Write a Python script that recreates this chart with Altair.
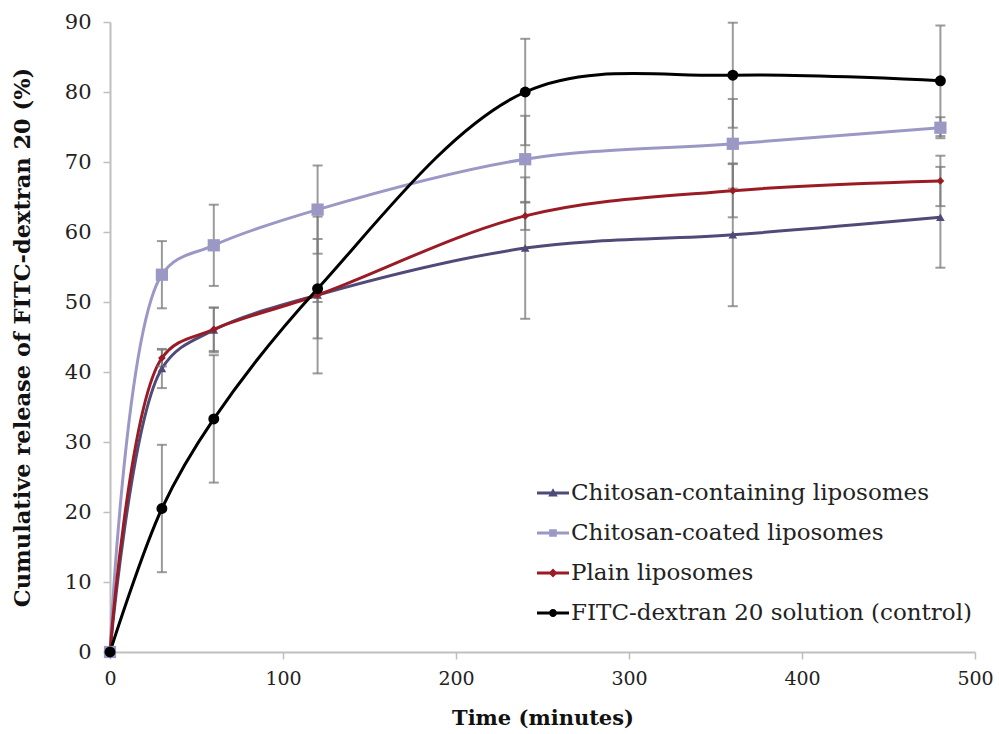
import altair as alt
import pandas as pd

# Sampling times (minutes)
time_min = [0, 30, 60, 120, 240, 360, 480]

series_names = [
    "Chitosan-containing liposomes",
    "Chitosan-coated liposomes",
    "Plain liposomes",
    "FITC-dextran 20 solution (control)",
]

# Cumulative release (%) and standard deviations
contained_mean = [0, 40.5, 46.0, 51.0, 57.7, 59.6, 62.1]
contained_sd = [0, 2.8, 3.2, 11.2, 10.1, 10.2, 7.2]
coated_mean = [0, 53.9, 58.1, 63.2, 70.4, 72.6, 74.9]
coated_sd = [0, 4.8, 5.8, 6.3, 6.2, 6.4, 1.5]
plain_mean = [0, 42.0, 46.1, 51.0, 62.3, 65.9, 67.3]
plain_sd = [0, 1.2, 3.1, 1.0, 2.0, 3.8, 3.6]
control_mean = [0, 20.5, 33.3, 51.9, 80.0, 82.4, 81.6]
control_sd = [0, 9.1, 9.1, 7.1, 7.6, 7.5, 7.9]

x_ticks = [0, 100, 200, 300, 400, 500]
y_ticks = [0, 10, 20, 30, 40, 50, 60, 70, 80, 90]

# Styling per series
colors = ["#4f4a78", "#9c98c5", "#9b1b24", "#000000"]
marker_shapes = ["triangle-up", "square", "diamond", "circle"]
marker_sizes = [75, 150, 60, 120]

# Legend glyphs: a short line segment with the series marker on it
legend_paths = [
    "M-1,-0.09L1,-0.09L1,0.09L-1,0.09Z M0,-0.3L0.3,0.22L-0.3,0.22Z",
    "M-1,-0.09L1,-0.09L1,0.09L-1,0.09Z M-0.24,-0.24L0.24,-0.24L0.24,0.24L-0.24,0.24Z",
    "M-1,-0.09L1,-0.09L1,0.09L-1,0.09Z M0,-0.28L0.28,0L0,0.28L-0.28,0Z",
    "M-1,-0.09L1,-0.09L1,0.09L-1,0.09Z M-0.25,0A0.25,0.25 0 1,1 0.25,0A0.25,0.25 0 1,1 -0.25,0Z",
]

rows = []
for name, means, sds in zip(
    series_names,
    [contained_mean, coated_mean, plain_mean, control_mean],
    [contained_sd, coated_sd, plain_sd, control_sd],
):
    for t, m, s in zip(time_min, means, sds):
        rows.append({"series": name, "time": t, "value": m, "sd": s,
                     "lo": m - s, "hi": m + s})
df = pd.DataFrame(rows)

x_scale = alt.Scale(domain=[0, 500], nice=False, zero=True)
y_scale = alt.Scale(domain=[0, 90], nice=False)
x_axis = alt.Axis(values=x_ticks, title="Time (minutes)", labelFlush=False)
y_axis = alt.Axis(values=y_ticks, title="Cumulative release of  FITC-dextran 20 (%)",
                  titleFontSize=22.5)
color_scale = alt.Scale(domain=series_names, range=colors)

X = alt.X("time:Q", scale=x_scale, axis=x_axis)


def Y(field):
    return alt.Y(f"{field}:Q", scale=y_scale, axis=y_axis)


base = alt.Chart(df)
err_color = "#7a7a7a"
err = base.transform_filter("datum.sd > 0")

layers = []

# smoothed series lines, control drawn last
for name in series_names:
    layers.append(
        base.transform_filter(alt.datum.series == name)
        .mark_line(interpolate="catmull-rom", strokeWidth=3)
        .encode(x=X, y=Y("value"),
                color=alt.Color("series:N", scale=color_scale, legend=None))
    )

# error bars with caps
layers.append(
    err.mark_rule(color=err_color, strokeWidth=2, opacity=0.75)
    .encode(x=X, y=Y("lo"), y2="hi:Q")
)
for end in ["lo", "hi"]:
    layers.append(
        err.mark_tick(orient="horizontal", color=err_color, size=10,
                      thickness=2, opacity=0.75)
        .encode(x=X, y=Y(end))
    )

# markers
for name, shp, sz in zip(series_names, marker_shapes, marker_sizes):
    layers.append(
        base.transform_filter(alt.datum.series == name)
        .mark_point(filled=True, size=sz, opacity=1, shape=shp)
        .encode(x=X, y=Y("value"),
                color=alt.Color("series:N", scale=color_scale, legend=None))
    )

# legend-only layer
legend_def = alt.Legend(
    title=None, orient="none", legendX=427, legendY=455,
    labelFont="DejaVu Serif", labelFontSize=23, labelColor="#222222",
    symbolSize=1024, rowPadding=12, labelOffset=2, padding=0,
    symbolStrokeWidth=0, labelLimit=600,
)
layers.append(
    base.transform_filter("false")
    .mark_point(filled=True, size=1024, opacity=1)
    .encode(
        x=X, y=Y("value"),
        color=alt.Color("series:N", scale=color_scale, legend=legend_def),
        shape=alt.Shape("series:N",
                        scale=alt.Scale(domain=series_names, range=legend_paths),
                        legend=legend_def),
    )
)

chart = (
    alt.layer(*layers)
    .resolve_scale(color="independent", shape="independent")
    .properties(
        width=865, height=630,
        padding={"left": 110, "top": 22, "right": 24, "bottom": 82},
        autosize="none", background="white",
    )
    .configure_view(stroke="transparent")
    .configure_axis(
        grid=False, domainColor="#bfbfbf", domainWidth=2,
        tickColor="#bfbfbf", tickWidth=1.5, tickSize=7,
        labelFont="DejaVu Serif", labelColor="#222222",
        titleFont="DejaVu Serif", titleFontSize=21, titleFontWeight="bold",
        titleColor="#111111",
    )
    .configure_axisX(labelFontSize=19, labelPadding=10, titlePadding=19)
    .configure_axisY(labelFontSize=21, labelPadding=12, titlePadding=30)
)

chart.save("out.html", embed_options={"renderer": "svg", "actions": False})
